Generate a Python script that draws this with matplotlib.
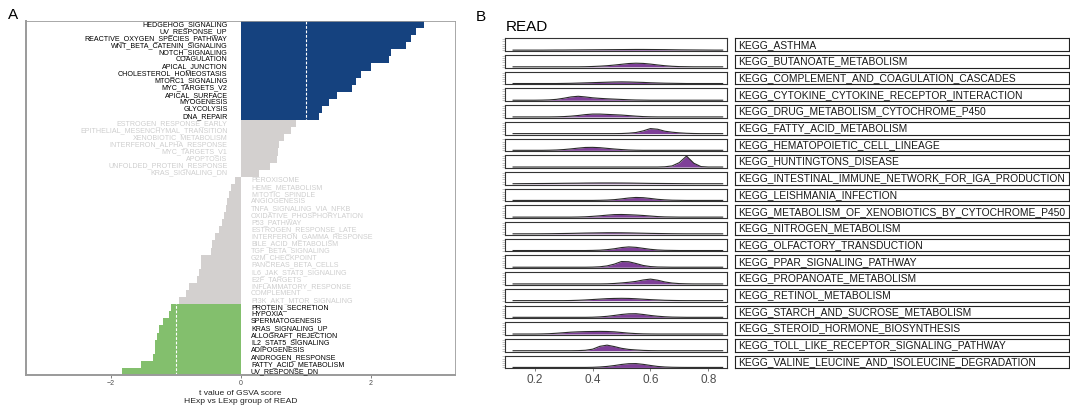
import numpy as np
import matplotlib.pyplot as plt

plt.rcParams['font.family'] = ['Liberation Sans', 'DejaVu Sans']

# panel A: hallmark pathways, t value of GSVA score (HExp vs LExp)
hallmark_terms = [
    "HEDGEHOG_SIGNALING", "UV_RESPONSE_UP", "REACTIVE_OXYGEN_SPECIES_PATHWAY",
    "WNT_BETA_CATENIN_SIGNALING", "NOTCH_SIGNALING", "COAGULATION",
    "APICAL_JUNCTION", "CHOLESTEROL_HOMEOSTASIS", "MTORC1_SIGNALING",
    "MYC_TARGETS_V2", "APICAL_SURFACE", "MYOGENESIS", "GLYCOLYSIS", "DNA_REPAIR",
    "ESTROGEN_RESPONSE_EARLY", "EPITHELIAL_MESENCHYMAL_TRANSITION",
    "XENOBIOTIC_METABOLISM", "INTERFERON_ALPHA_RESPONSE", "MYC_TARGETS_V1",
    "APOPTOSIS", "UNFOLDED_PROTEIN_RESPONSE", "KRAS_SIGNALING_DN",
    "PEROXISOME", "HEME_METABOLISM", "MITOTIC_SPINDLE", "ANGIOGENESIS",
    "TNFA_SIGNALING_VIA_NFKB", "OXIDATIVE_PHOSPHORYLATION", "P53_PATHWAY",
    "ESTROGEN_RESPONSE_LATE", "INTERFERON_GAMMA_RESPONSE", "BILE_ACID_METABOLISM",
    "TGF_BETA_SIGNALING", "G2M_CHECKPOINT", "PANCREAS_BETA_CELLS",
    "IL6_JAK_STAT3_SIGNALING", "E2F_TARGETS", "INFLAMMATORY_RESPONSE",
    "COMPLEMENT", "PI3K_AKT_MTOR_SIGNALING",
    "PROTEIN_SECRETION", "HYPOXIA", "SPERMATOGENESIS", "KRAS_SIGNALING_UP",
    "ALLOGRAFT_REJECTION", "IL2_STAT5_SIGNALING", "ADIPOGENESIS",
    "ANDROGEN_RESPONSE", "FATTY_ACID_METABOLISM", "UV_RESPONSE_DN",
]
t_values = [
    2.82, 2.70, 2.63, 2.54, 2.31, 2.29, 2.01, 1.85, 1.77, 1.71, 1.48, 1.36, 1.26, 1.20,
    0.86, 0.77, 0.67, 0.59, 0.57, 0.56, 0.46, 0.28,
    -0.08, -0.14, -0.17, -0.21, -0.22, -0.26, -0.28, -0.33, -0.39, -0.44, -0.45,
    -0.61, -0.61, -0.64, -0.67, -0.79, -0.84, -0.94,
    -1.07, -1.10, -1.19, -1.25, -1.28, -1.31, -1.32, -1.34, -1.53, -1.83,
]

# panel B: KEGG pathway score densities (relative height) on a score grid
kegg_terms = [
    "KEGG_ASTHMA", "KEGG_BUTANOATE_METABOLISM", "KEGG_COMPLEMENT_AND_COAGULATION_CASCADES",
    "KEGG_CYTOKINE_CYTOKINE_RECEPTOR_INTERACTION", "KEGG_DRUG_METABOLISM_CYTOCHROME_P450",
    "KEGG_FATTY_ACID_METABOLISM", "KEGG_HEMATOPOIETIC_CELL_LINEAGE", "KEGG_HUNTINGTONS_DISEASE",
    "KEGG_INTESTINAL_IMMUNE_NETWORK_FOR_IGA_PRODUCTION", "KEGG_LEISHMANIA_INFECTION",
    "KEGG_METABOLISM_OF_XENOBIOTICS_BY_CYTOCHROME_P450", "KEGG_NITROGEN_METABOLISM",
    "KEGG_OLFACTORY_TRANSDUCTION", "KEGG_PPAR_SIGNALING_PATHWAY", "KEGG_PROPANOATE_METABOLISM",
    "KEGG_RETINOL_METABOLISM", "KEGG_STARCH_AND_SUCROSE_METABOLISM",
    "KEGG_STEROID_HORMONE_BIOSYNTHESIS", "KEGG_TOLL_LIKE_RECEPTOR_SIGNALING_PATHWAY",
    "KEGG_VALINE_LEUCINE_AND_ISOLEUCINE_DEGRADATION",
]
score_grid = [0.125, 0.15, 0.175, 0.2, 0.225, 0.25, 0.275, 0.3, 0.325, 0.35,
              0.375, 0.4, 0.425, 0.45, 0.475, 0.5, 0.525, 0.55, 0.575, 0.6,
              0.625, 0.65, 0.675, 0.7, 0.725, 0.75, 0.775, 0.8, 0.825, 0.85]
densities = [
    [0, 0, 0, 0, 0, .005, .01, .01, .015, .02, .025, .03, .035, .04, .045, .05, .055, .06, .06, .055, .05, .045, .035, .025, .02, .015, .01, .005, 0, 0],
    [0, 0, 0, 0, 0, 0, 0, 0, 0, 0, .01, .03, .06, .10, .16, .23, .30, .33, .31, .25, .17, .10, .05, .02, .01, 0, 0, 0, 0, 0],
    [0, 0, 0, 0, 0, 0, 0, .01, .02, .04, .06, .08, .10, .12, .14, .15, .14, .12, .10, .07, .05, .03, .02, .01, 0, 0, 0, 0, 0, 0],
    [0, 0, 0, 0, .01, .03, .08, .18, .30, .36, .30, .22, .17, .13, .10, .07, .04, .02, .01, 0, 0, 0, 0, 0, 0, 0, 0, 0, 0, 0],
    [0, 0, 0, 0, 0, 0, .01, .03, .07, .13, .21, .26, .26, .23, .20, .17, .12, .07, .03, .01, 0, 0, 0, 0, 0, 0, 0, 0, 0, 0],
    [0, 0, 0, 0, 0, 0, 0, 0, 0, 0, 0, 0, 0, 0, 0, .01, .04, .10, .25, .46, .40, .22, .13, .07, .03, .01, 0, 0, 0, 0],
    [0, 0, 0, 0, 0, .01, .03, .07, .13, .20, .26, .27, .24, .18, .12, .07, .03, .01, 0, 0, 0, 0, 0, 0, 0, 0, 0, 0, 0, 0],
    [0, 0, 0, 0, 0, 0, 0, 0, 0, 0, 0, 0, 0, 0, 0, 0, 0, 0, 0, 0, 0, .02, .10, .40, 1.0, .35, .04, 0, 0, 0],
    [0, .005, .01, .015, .02, .025, .03, .04, .045, .05, .06, .065, .07, .07, .07, .065, .06, .05, .04, .03, .025, .02, .015, .01, .005, 0, 0, 0, 0, 0],
    [0, 0, 0, 0, 0, 0, 0, 0, 0, 0, 0, 0, .01, .03, .07, .14, .22, .27, .25, .18, .10, .05, .02, .01, 0, 0, 0, 0, 0, 0],
    [0, 0, 0, 0, 0, 0, 0, 0, 0, .01, .03, .07, .12, .18, .23, .24, .22, .19, .15, .10, .05, .02, .01, 0, 0, 0, 0, 0, 0, 0],
    [0, 0, 0, 0, .005, .01, .02, .03, .04, .055, .07, .08, .09, .10, .10, .095, .085, .07, .055, .04, .03, .02, .01, .005, 0, 0, 0, 0, 0, 0],
    [0, 0, 0, 0, 0, 0, 0, 0, 0, 0, 0, .01, .03, .08, .16, .27, .33, .29, .20, .11, .05, .02, .01, 0, 0, 0, 0, 0, 0, 0],
    [0, 0, 0, 0, 0, 0, 0, 0, 0, 0, 0, .01, .04, .12, .28, .52, .50, .34, .16, .06, .02, .01, 0, 0, 0, 0, 0, 0, 0, 0],
    [0, 0, 0, 0, 0, 0, 0, 0, 0, 0, 0, 0, 0, .01, .04, .09, .15, .23, .36, .44, .34, .18, .08, .03, .01, 0, 0, 0, 0, 0],
    [0, 0, 0, 0, 0, 0, 0, 0, .01, .03, .06, .10, .14, .18, .20, .21, .20, .17, .13, .09, .06, .03, .015, .005, 0, 0, 0, 0, 0, 0],
    [0, 0, 0, 0, 0, 0, 0, 0, 0, 0, 0, .01, .04, .09, .17, .26, .32, .33, .26, .17, .10, .05, .02, .01, 0, 0, 0, 0, 0, 0],
    [0, 0, 0, 0, .01, .03, .07, .12, .17, .20, .22, .23, .24, .23, .20, .14, .08, .04, .015, .005, 0, 0, 0, 0, 0, 0, 0, 0, 0, 0],
    [0, 0, 0, 0, 0, 0, 0, 0, 0, .01, .04, .14, .40, .51, .38, .22, .12, .07, .03, .01, 0, 0, 0, 0, 0, 0, 0, 0, 0, 0],
    [0, 0, 0, 0, 0, 0, 0, 0, 0, 0, 0, .01, .04, .09, .17, .27, .34, .35, .28, .18, .09, .04, .015, .005, 0, 0, 0, 0, 0, 0],
]

col_up = "#15427f"
col_down = "#83bf6d"
col_ns = "#d3d0cf"
col_ns_txt = "#cecece"
col_ridge = "#7e3f98"
W, H = 1070, 407


def box(left, top, width, height):
    return [left / W, 1 - (top + height) / H, width / W, height / H]


fig = plt.figure(figsize=(W / 100, H / 100), dpi=100)

# ---- panel A ----
axA = fig.add_axes(box(26, 21, 429, 354))
n = len(hallmark_terms)
ypos = np.arange(n)
bar_cols = [col_up if v > 1 else col_down if v < -1 else col_ns for v in t_values]
axA.barh(ypos, t_values, height=1.0, color=bar_cols, linewidth=0)
axA.axvline(1, color="white", lw=0.8, ls=(0, (2.5, 1.5)))
axA.axvline(-1, color="white", lw=0.8, ls=(0, (2.5, 1.5)))
for yi, term, v in zip(ypos, hallmark_terms, t_values):
    tc = "black" if abs(v) > 1 else col_ns_txt
    if v > 0:
        axA.text(-0.2, yi, term, ha="right", va="center", fontsize=5.1, color=tc)
    else:
        axA.text(0.16, yi, term, ha="left", va="center", fontsize=5.1, color=tc)
axA.set_xlim(-3.3, 3.3)
axA.set_ylim(n - 0.5, -0.5)
axA.set_yticks([])
axA.set_xticks([-2, 0, 2])
axA.tick_params(axis="x", labelsize=5, colors="#4d4d4d", length=2, width=0.5, pad=1.5)
for s in ["left", "bottom"]:
    axA.spines[s].set_color("#9a9a9a")
    axA.spines[s].set_linewidth(1.4)
for s in ["top", "right"]:
    axA.spines[s].set_color("#9a9a9a")
    axA.spines[s].set_linewidth(0.6)
axA.set_xlabel("t value of GSVA score\nHExp vs LExp group of READ",
               fontsize=6.1, color="#222222", labelpad=2, linespacing=1.25)

# ---- panel B ----
for i, (term, dens) in enumerate(zip(kegg_terms, densities)):
    top = 38.3 + i * 16.7
    ax = fig.add_axes(box(505, top, 222, 12.7))
    ax.fill_between(score_grid, dens, 0, color=col_ridge, lw=0)
    ax.plot(score_grid, dens, color="#2b2b2b", lw=0.8)
    ax.set_xlim(0.097, 0.865)
    ax.set_ylim(-0.08, 1.08)
    ax.set_yticks([0, 0.2, 0.4, 0.6, 0.8, 1.0])
    ax.set_yticklabels([])
    ax.tick_params(axis="y", length=2, width=0.4, colors="#9a9a9a")
    for s in ax.spines.values():
        s.set_color("#333333")
        s.set_linewidth(0.8)
    if i == len(kegg_terms) - 1:
        ax.set_xticks([0.2, 0.4, 0.6, 0.8])
        ax.set_xticklabels(["0.2", "0.4", "0.6", "0.8"])
        ax.tick_params(axis="x", labelsize=8.5, colors="#4d4d4d", length=2, width=0.5, pad=2)
    else:
        ax.set_xticks([])

    strip = fig.add_axes(box(735, top, 334, 12.7))
    strip.set_xticks([])
    strip.set_yticks([])
    for s in strip.spines.values():
        s.set_color("#222222")
        s.set_linewidth(0.8)
    strip.text(0.009, 0.5, term, transform=strip.transAxes, ha="left", va="center",
               fontsize=7.4, color="#1a1a1a")

fig.text(506 / W, 1 - 27 / H, "READ", fontsize=11, va="center", ha="left")
fig.text(8 / W, 1 - 15 / H, "A", fontsize=11, va="center", ha="left")
fig.text(476 / W, 1 - 17 / H, "B", fontsize=11, va="center", ha="left")

fig.savefig("out.png", dpi=100)
